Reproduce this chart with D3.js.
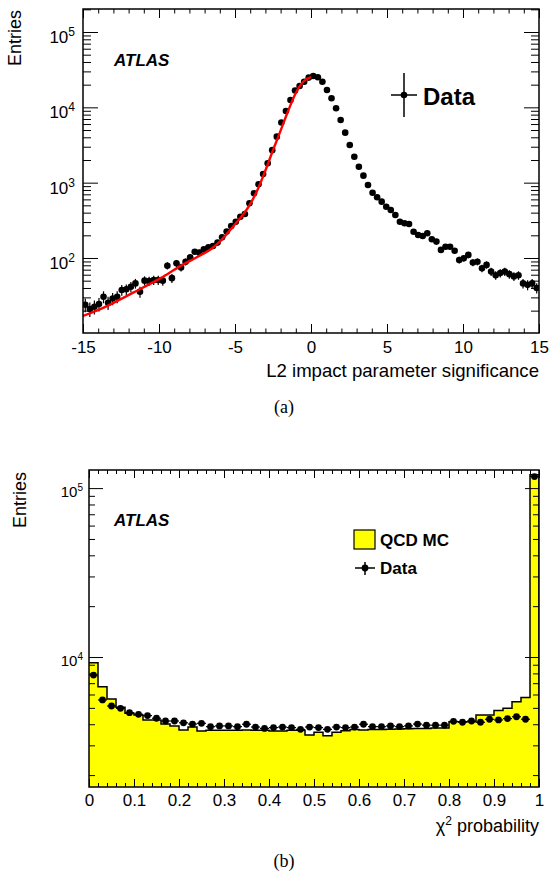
<!DOCTYPE html>
<html>
<head>
<meta charset="utf-8">
<script src="https://cdn.jsdelivr.net/npm/d3@7"></script>
<style>
body { margin: 0; background: #fff; }
svg { display: block; font-family: "Liberation Sans", Arial, Helvetica, sans-serif; }
</style>
</head>
<body>
<svg id="chart" width="549" height="879"></svg>
<script>
// ---- panel (a): L2 impact parameter significance, 100 bins of 0.3 from -15 to 15
var ipLo = -15, ipW = 0.3;
var ipData = [24, 21, 22.5, 24.5, 30.6, 25.5, 29, 30.6, 37.6, 38.4,
              41.6, 46, 35.7, 50, 49.5, 51, 51, 50, 79, 54,
              85, 75, 89, 102, 121, 118, 130, 139, 144, 160,
              188, 224, 266, 303, 353, 384, 532, 722, 953, 1300,
              1810, 2700, 4080, 6300, 8950, 12500, 16700, 19200, 21900, 24800,
              26100, 25100, 21900, 17000, 13200, 9730, 6800, 4610, 3160, 2210,
              1630, 1240, 931, 736, 640, 560, 480, 434, 372, 303,
              289, 283, 223, 202, 196, 213, 177, 165, 128, 141,
              141, 125, 94, 99, 110, 87, 89, 73, 81, 66,
              59, 63, 66, 61, 57, 59, 46, 44, 46, 40];
// red fit curve
var fitX = [-15, -13.9, -11.7, -9.9, -8.6, -7.3, -6.5, -6.0, -5.5, -5.0, -4.5, -4.0, -3.5, -3.0, -2.5, -2.0, -1.5, -1.0, -0.5, 0];
var fitY = [17, 20.8, 34.7, 54, 78, 108, 135, 165, 212, 280, 370, 520, 820, 1450, 2700, 4900, 9000, 15500, 22000, 25100];

// ---- panel (b): chi2 probability, 50 bins of 0.02
var chiW = 0.02;
var chiData = [7820, 5570, 5130, 4970, 4680, 4580, 4500, 4340, 4180, 4180,
               4080, 4010, 4050, 3870, 3910, 3910, 3870, 4000, 3850, 3780,
               3820, 3850, 3820, 3730, 3850, 3820, 3730, 3850, 3820, 3850,
               4000, 3870, 3870, 3910, 3870, 3910, 4010, 3950, 3950, 3950,
               4160, 4110, 4180, 4110, 4280, 4240, 4320, 4430, 4280, 117000];
var chiMC = [9250, 6670, 5640, 5040, 4640, 4540, 4240, 4240, 4010, 3910,
             3700, 3850, 3650, 3680, 3680, 3680, 3680, 3700, 3680, 3680,
             3650, 3650, 3680, 3680, 3450, 3580, 3420, 3580, 3660, 3720,
             3700, 3720, 3720, 3740, 3750, 3760, 3780, 3780, 3800, 3800,
             4140, 4140, 4140, 4540, 4540, 4820, 4970, 5440, 5750, 120000];

var svg = d3.select("#chart");
var font = '"Liberation Sans", Arial, Helvetica, sans-serif';

// ticks on all four sides, labels on left and bottom
function frame(x, y, o) {
  var xr = x.range(), yr = y.range();
  var bot = yr[0], top = yr[1], left = xr[0], right = xr[1];

  function style(g) {
    g.attr("font-family", font).attr("font-size", o.labelSize);
    g.select(".domain").remove();
    g.selectAll(".tick line").attr("stroke", "#000").attr("stroke-width", 1);
    g.selectAll(".tick text").attr("fill", "#000");
  }

  // x minor
  svg.append("g").attr("transform", "translate(0," + bot + ")")
    .call(d3.axisBottom(x).tickValues(o.xMinor).tickSize(-o.xMinLen).tickFormat("")).call(style);
  svg.append("g").attr("transform", "translate(0," + top + ")")
    .call(d3.axisTop(x).tickValues(o.xMinor).tickSize(-o.xMinLen).tickFormat("")).call(style);
  // x major
  svg.append("g").attr("transform", "translate(0," + bot + ")")
    .call(d3.axisBottom(x).tickValues(o.xMajor).tickSizeInner(-o.xMajLen).tickSizeOuter(0)
      .tickPadding(o.xPad).tickFormat(o.xFmt)).call(style);
  svg.append("g").attr("transform", "translate(0," + top + ")")
    .call(d3.axisTop(x).tickValues(o.xMajor).tickSize(-o.xMajLen).tickFormat("")).call(style);

  // y minor
  svg.append("g").attr("transform", "translate(" + left + ",0)")
    .call(d3.axisLeft(y).tickValues(o.yMinor).tickSize(-o.yMinLen).tickFormat("")).call(style);
  svg.append("g").attr("transform", "translate(" + right + ",0)")
    .call(d3.axisRight(y).tickValues(o.yMinor).tickSize(-o.yMinLen).tickFormat("")).call(style);
  // y major with 10^n labels
  var ly = svg.append("g").attr("transform", "translate(" + left + ",0)")
    .call(d3.axisLeft(y).tickValues(o.yMajor).tickSizeInner(-o.yMajLen).tickSizeOuter(0)
      .tickPadding(o.yPad)).call(style);
  ly.selectAll(".tick text").attr("font-size", o.yLabelSize).attr("dy", o.yDy).each(function(d) {
    var t = d3.select(this).text("");
    t.append("tspan").text("10");
    t.append("tspan").attr("dy", -o.supUp).attr("font-size", o.supSize).text(Math.round(Math.log10(d)));
  });
  svg.append("g").attr("transform", "translate(" + right + ",0)")
    .call(d3.axisRight(y).tickValues(o.yMajor).tickSize(-o.yMajLen).tickFormat("")).call(style);

  svg.append("rect")
    .attr("x", left).attr("y", top).attr("width", right - left).attr("height", bot - top)
    .attr("fill", "none").attr("stroke", "#000").attr("stroke-width", 1.5);
}

function logMinor(lo, hi) {
  var out = [];
  for (var e = lo; e <= hi; e++)
    for (var m = 2; m <= 9; m++) out.push(m * Math.pow(10, e));
  return out;
}

// ================= panel (a) =================
var xa = d3.scaleLinear().domain([-15, 15]).range([83, 539]);
var ya = d3.scaleLog().domain([10.1, 2.02e5]).range([333, 9]);

svg.append("clipPath").attr("id", "clipA").append("rect")
  .attr("x", 83).attr("y", 9).attr("width", 456).attr("height", 324);

var gA = svg.append("g").attr("clip-path", "url(#clipA)");

var ipPts = ipData.map(function(v, i) { return { x: ipLo + ipW * (i + 0.5), v: v }; });

// error bars
gA.selectAll("line.ev").data(ipPts).enter().append("line")
  .attr("x1", function(d) { return xa(d.x); }).attr("x2", function(d) { return xa(d.x); })
  .attr("y1", function(d) { return ya(d.v + Math.sqrt(d.v)); })
  .attr("y2", function(d) { return ya(Math.max(d.v - Math.sqrt(d.v), 1)); })
  .attr("stroke", "#000").attr("stroke-width", 1.2);
gA.selectAll("line.eh").data(ipPts).enter().append("line")
  .attr("x1", function(d) { return xa(d.x - ipW / 2); }).attr("x2", function(d) { return xa(d.x + ipW / 2); })
  .attr("y1", function(d) { return ya(d.v); }).attr("y2", function(d) { return ya(d.v); })
  .attr("stroke", "#000").attr("stroke-width", 1.2);
gA.selectAll("circle").data(ipPts).enter().append("circle")
  .attr("cx", function(d) { return xa(d.x); }).attr("cy", function(d) { return ya(d.v); })
  .attr("r", 3.3).attr("fill", "#000");

// fit
var fitLine = d3.line()
  .x(function(d, i) { return xa(fitX[i]); })
  .y(function(d) { return ya(d); })
  .curve(d3.curveMonotoneX);
gA.append("path").datum(fitY).attr("d", fitLine)
  .attr("fill", "none").attr("stroke", "#ff0000").attr("stroke-width", 2.4);

frame(xa, ya, {
  xMajor: [-15, -10, -5, 0, 5, 10, 15], xMinor: d3.range(-15, 16, 1),
  xMajLen: 9, xMinLen: 4.5, xPad: 8, xFmt: function(d) { return String(d); },
  yMajor: [1e2, 1e3, 1e4, 1e5], yMinor: logMinor(1, 5).filter(function(v) { return v < 2.02e5 && v > 10.1; }),
  yMajLen: 15, yMinLen: 8, yPad: 8, yDy: "0.62em",
  labelSize: 17, yLabelSize: 17, supSize: 12, supUp: 7
});

// labels
svg.append("text").attr("transform", "translate(21,10) rotate(-90)")
  .attr("text-anchor", "end").attr("font-size", 18).text("Entries");
svg.append("text").attr("x", 539).attr("y", 377).attr("text-anchor", "end")
  .attr("font-size", 18.6).text("L2 impact parameter significance");
svg.append("text").attr("x", 114).attr("y", 66).attr("font-size", 17)
  .attr("font-weight", "bold").attr("font-style", "italic").text("ATLAS");

// legend (a)
svg.append("line").attr("x1", 404).attr("x2", 404).attr("y1", 73).attr("y2", 117).attr("stroke", "#000").attr("stroke-width", 1.5);
svg.append("line").attr("x1", 391).attr("x2", 417).attr("y1", 95).attr("y2", 95).attr("stroke", "#000").attr("stroke-width", 1.5);
svg.append("circle").attr("cx", 404).attr("cy", 95).attr("r", 3.3).attr("fill", "#000");
svg.append("text").attr("x", 423).attr("y", 105).attr("font-size", 24).attr("font-weight", "bold").text("Data");

svg.append("text").attr("x", 284).attr("y", 413).attr("text-anchor", "middle")
  .attr("font-family", '"Liberation Serif", "Times New Roman", serif').attr("font-size", 18).text("(a)");

// ================= panel (b) =================
var xb = d3.scaleLinear().domain([0, 1]).range([89, 539]);
var yb = d3.scaleLog().domain([1700, 1.28e5]).range([787, 470]);

svg.append("clipPath").attr("id", "clipB").append("rect")
  .attr("x", 89).attr("y", 470).attr("width", 450).attr("height", 317);
var gB = svg.append("g").attr("clip-path", "url(#clipB)");

var mcSteps = chiMC.map(function(v, i) { return { x: i * chiW, v: v }; });
mcSteps.push({ x: 1, v: chiMC[chiMC.length - 1] });

var mcArea = d3.area()
  .x(function(d) { return xb(d.x); })
  .y0(787).y1(function(d) { return yb(d.v); })
  .curve(d3.curveStepAfter);
gB.append("path").datum(mcSteps).attr("d", mcArea).attr("fill", "#ffff00");
var mcLine = d3.line()
  .x(function(d) { return xb(d.x); })
  .y(function(d) { return yb(d.v); })
  .curve(d3.curveStepAfter);
gB.append("path").datum(mcSteps).attr("d", mcLine)
  .attr("fill", "none").attr("stroke", "#000").attr("stroke-width", 1.5);
// closing vertical edge of last bin
gB.append("line").attr("x1", xb(1)).attr("x2", xb(1)).attr("y1", 787).attr("y2", yb(chiMC[chiMC.length - 1]))
  .attr("stroke", "#000").attr("stroke-width", 1.5);

var chiPts = chiData.map(function(v, i) { return { x: chiW * (i + 0.5), v: v }; });
gB.selectAll("line.eh").data(chiPts).enter().append("line")
  .attr("x1", function(d) { return xb(d.x - chiW / 2); }).attr("x2", function(d) { return xb(d.x + chiW / 2); })
  .attr("y1", function(d) { return yb(d.v); }).attr("y2", function(d) { return yb(d.v); })
  .attr("stroke", "#000").attr("stroke-width", 1.2);
gB.selectAll("line.ev").data(chiPts).enter().append("line")
  .attr("x1", function(d) { return xb(d.x); }).attr("x2", function(d) { return xb(d.x); })
  .attr("y1", function(d) { return yb(d.v + Math.sqrt(d.v)); }).attr("y2", function(d) { return yb(d.v - Math.sqrt(d.v)); })
  .attr("stroke", "#000").attr("stroke-width", 1.2);
gB.selectAll("circle").data(chiPts).enter().append("circle")
  .attr("cx", function(d) { return xb(d.x); }).attr("cy", function(d) { return yb(d.v); })
  .attr("r", 3.4).attr("fill", "#000");

frame(xb, yb, {
  xMajor: d3.range(0, 11).map(function(k) { return k / 10; }),
  xMinor: d3.range(0, 51).map(function(k) { return k / 50; }),
  xMajLen: 8, xMinLen: 4, xPad: 7, xFmt: function(d) { return d === 0 || d === 1 ? String(d) : d3.format(".1f")(d); },
  yMajor: [1e4, 1e5], yMinor: logMinor(3, 5).filter(function(v) { return v < 1.28e5 && v > 1700; }),
  yMajLen: 14, yMinLen: 6, yPad: 6, yDy: "0.55em",
  labelSize: 17, yLabelSize: 15, supSize: 10, supUp: 6
});

svg.append("text").attr("transform", "translate(26,472) rotate(-90)")
  .attr("text-anchor", "end").attr("font-size", 18).text("Entries");
var xt = svg.append("text").attr("x", 539).attr("y", 832).attr("text-anchor", "end").attr("font-size", 18);
xt.append("tspan").text("\u03c7");
xt.append("tspan").attr("dy", -7).attr("font-size", 12).text("2");
xt.append("tspan").attr("dy", 7).text(" probability");
svg.append("text").attr("x", 114).attr("y", 526).attr("font-size", 17)
  .attr("font-weight", "bold").attr("font-style", "italic").text("ATLAS");

// legend (b)
svg.append("rect").attr("x", 354).attr("y", 530).attr("width", 21).attr("height", 19)
  .attr("fill", "#ffff00").attr("stroke", "#000").attr("stroke-width", 1.2);
svg.append("text").attr("x", 380).attr("y", 546).attr("font-size", 17).attr("font-weight", "bold").text("QCD MC");
svg.append("line").attr("x1", 355).attr("x2", 375).attr("y1", 568).attr("y2", 568).attr("stroke", "#000").attr("stroke-width", 1.5);
svg.append("line").attr("x1", 365).attr("x2", 365).attr("y1", 562).attr("y2", 575).attr("stroke", "#000").attr("stroke-width", 1.5);
svg.append("circle").attr("cx", 365).attr("cy", 568).attr("r", 3.4).attr("fill", "#000");
svg.append("text").attr("x", 380).attr("y", 574).attr("font-size", 17).attr("font-weight", "bold").text("Data");

svg.append("text").attr("x", 284).attr("y", 867).attr("text-anchor", "middle")
  .attr("font-family", '"Liberation Serif", "Times New Roman", serif').attr("font-size", 18).text("(b)");
</script>
</body>
</html>
